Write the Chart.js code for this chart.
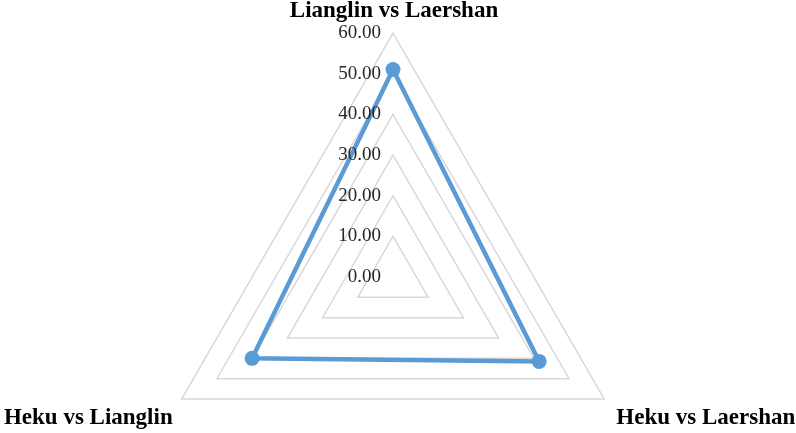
<!DOCTYPE html>
<html>
<head>
<meta charset="utf-8">
<script src="https://cdn.jsdelivr.net/npm/chart.js@4/dist/chart.umd.min.js"></script>
<style>
html,body{margin:0;padding:0;background:#fff;}
#wrap{width:796px;height:433px;}
</style>
</head>
<body>
<div id="wrap"><canvas id="c" width="796" height="433"></canvas></div>
<script>
const categories = ["Lianglin vs Laershan", "Heku vs Laershan", "Heku vs Lianglin"];
const seriesValues = [51, 41.5, 40];
const tickValues = [0, 10, 20, 30, 40, 50, 60];
const tickLabels = ["0.00", "10.00", "20.00", "30.00", "40.00", "50.00", "60.00"];

const SERIF = "'Liberation Serif', 'Times New Roman', serif";

const labelPlugin = {
  id: 'customLabels',
  afterDraw(chart) {
    const scale = chart.scales.r;
    const ctx = chart.ctx;
    ctx.save();
    // tick labels
    ctx.font = "19px " + SERIF;
    ctx.fillStyle = "#262626";
    ctx.textAlign = "right";
    ctx.textBaseline = "middle";
    tickValues.forEach((v, i) => {
      const p = scale.getPointPositionForValue(0, v);
      ctx.fillText(tickLabels[i], p.x - 12, p.y);
    });
    // category labels
    ctx.font = "bold 23px " + SERIF;
    ctx.fillStyle = "#000";
    ctx.textBaseline = "alphabetic";
    categories.forEach((c, i) => {
      const p = scale.getPointPosition(i, scale.drawingArea);
      if (i === 0) {
        ctx.textAlign = "center";
        ctx.fillText(c, p.x + 1, p.y - 16);
      } else if (p.x > scale.xCenter) {
        ctx.textAlign = "left";
        ctx.fillText(c, p.x + 12, p.y + 25);
      } else {
        ctx.textAlign = "right";
        ctx.fillText(c, p.x - 9, p.y + 25);
      }
    });
    ctx.restore();
  }
};

new Chart(document.getElementById('c'), {
  type: 'radar',
  data: {
    labels: categories,
    datasets: [{
      data: seriesValues,
      borderColor: '#5b9bd5',
      backgroundColor: 'rgba(0,0,0,0)',
      borderWidth: 4.5,
      pointRadius: 7.5,
      pointHoverRadius: 7.5,
      pointBackgroundColor: '#5b9bd5',
      pointBorderColor: '#5b9bd5',
      pointBorderWidth: 0,
      fill: false,
      tension: 0
    }]
  },
  options: {
    responsive: false,
    animation: false,
    events: [],
    layout: { padding: 0 },
    plugins: { legend: { display: false }, tooltip: { enabled: false } },
    scales: {
      r: {
        min: 0,
        max: 60,
        ticks: { display: false, stepSize: 10 },
        grid: { color: '#d9d9d9', lineWidth: 1.5 },
        angleLines: { display: false },
        pointLabels: { display: false },
        afterFit(scale) {
          scale.xCenter = 393;
          scale.yCenter = 277;
          scale.drawingArea = 244;
        }
      }
    }
  },
  plugins: [labelPlugin]
});
</script>
</body>
</html>
